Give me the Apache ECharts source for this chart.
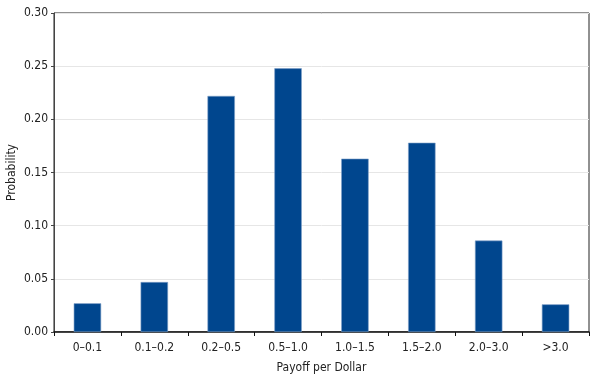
<!DOCTYPE html>
<html>
<head>
<meta charset="utf-8">
<script src="https://cdn.jsdelivr.net/npm/echarts@6/dist/echarts.min.js"></script>
<style>html,body{margin:0;padding:0;background:#fff}#c{width:600px;height:380px}</style>
</head>
<body>
<div id="c"></div>
<script>
const categories = ['0\u20130.1','0.1\u20130.2','0.2\u20130.5','0.5\u20131.0','1.0\u20131.5','1.5\u20132.0','2.0\u20133.0','>3.0'];
const probability = [0.027, 0.047, 0.222, 0.248, 0.163, 0.178, 0.086, 0.026];
const yTicks = [0, 0.05, 0.10, 0.15, 0.20, 0.25, 0.30];

const font = '"Liberation Sans Narrow", "DejaVu Sans Condensed", sans-serif';
const chart = echarts.init(document.getElementById('c'), null, {renderer: 'canvas'});
chart.setOption({
  animation: false,
  grid: {left: 54, right: 11, top: 13, bottom: 48, containLabel: false, outerBoundsMode: 'none',
    show: true, borderColor: '#222', borderWidth: 1, backgroundColor: 'transparent'},
  xAxis: {
    type: 'category',
    data: categories,
    name: 'Payoff per Dollar',
    nameLocation: 'middle',
    nameGap: 30,
    nameMoveOverlap: false,
    nameTextStyle: {fontFamily: font, fontSize: 12, color: '#222'},
    axisLine: {lineStyle: {color: '#111', width: 1.5}},
    axisTick: {show: true, alignWithLabel: false, length: 4, lineStyle: {color: '#111'}},
    axisLabel: {fontFamily: font, fontSize: 12, color: '#222', margin: 10},
    splitLine: {show: false}
  },
  yAxis: {
    type: 'value',
    min: 0, max: 0.30, interval: 0.05,
    name: 'Probability',
    nameLocation: 'middle',
    nameGap: 36,
    nameMoveOverlap: false,
    nameTextStyle: {fontFamily: font, fontSize: 12, color: '#222'},
    axisLine: {show: true, lineStyle: {color: '#444', width: 1}},
    axisTick: {show: true, length: 3, lineStyle: {color: '#444'}},
    axisLabel: {fontFamily: font, fontSize: 12, color: '#222', margin: 6,
      formatter: v => v.toFixed(2)},
    splitLine: {show: true, lineStyle: {color: '#e6e6e6', width: 1}}
  },
  series: [{
    type: 'bar',
    data: probability,
    barWidth: '41%',
    itemStyle: {color: '#00468e', borderColor: '#7ea0c8', borderWidth: 0.6}
  }]
});
</script>
</body>
</html>
